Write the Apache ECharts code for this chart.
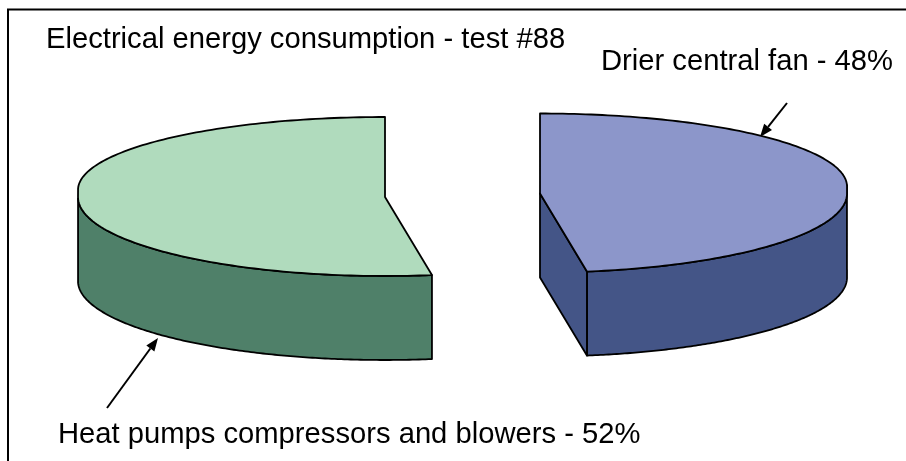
<!DOCTYPE html>
<html>
<head>
<meta charset="utf-8">
<style>
  html, body { margin: 0; padding: 0; background: #fff; }
  #chart { width: 906px; height: 461px; }
</style>
<script src="https://cdn.jsdelivr.net/npm/echarts@6/dist/echarts.min.js"></script>
</head>
<body>
<div id="chart"></div>
<script>
// chart data
const titleText = 'Electrical energy consumption - test #88';
const sliceNames = ['Drier central fan', 'Heat pumps compressors and blowers'];
const sliceShares = [48, 52];

// look of each slice, same order as the data
const topColors = ['#8C96CA', '#B0DBBD'];
const sideColors = ['#445587', '#4F8069'];
const sliceCenters = [[540, 193.5], [385, 197]];

const radiusX = 307;
const radiusYBack = 73;
const radiusYFront = 79;
const backLift = 7; // back half of the ellipse sits a bit higher, gives the flat bit at the sides
const depth = 84;
const bend = 1.6 * Math.PI / 180; // the drawing is not a true ellipse, cut lands a little further round

const font = 'Liberation Sans, Arial, sans-serif';
const fontSize = 29.2;
const chart = echarts.init(document.getElementById('chart'));

const total = sliceShares.reduce((a, b) => a + b, 0);

// angle is clockwise from 12 o'clock
const rimPoint = (center, angle) => {
  const t = angle - bend * Math.sin(angle / 2);
  const cos = Math.cos(t);
  const x = center[0] + radiusX * Math.sin(t);
  const y = cos > 0
    ? center[1] - backLift - radiusYBack * cos
    : center[1] - radiusYFront * cos;
  return [x, y];
};

const rimPoints = (center, from, to) => {
  const steps = 160;
  const pts = [];
  for (let i = 0; i <= steps; i++) {
    pts.push(rimPoint(center, from + (to - from) * i / steps));
  }
  return pts;
};

const down = (pts) => pts.map((p) => [p[0], p[1] + depth]);

const face = (points, fill, z2) => ({
  type: 'polygon',
  z2: z2,
  shape: { points: points },
  style: { fill: fill, stroke: '#000', lineWidth: 1.8, lineJoin: 'round' }
});

const renderSlice = (params, api) => {
  const i = params.dataIndex;
  const before = sliceShares.slice(0, i).reduce((a, b) => a + b, 0);
  const start = before / total * Math.PI * 2;
  const end = start + api.value(0) / total * Math.PI * 2;
  const center = sliceCenters[i];
  const children = [];

  // the wall only shows on the front half of the rim
  const frontFrom = Math.max(start, Math.PI / 2);
  const frontTo = Math.min(end, Math.PI * 1.5);
  if (frontTo > frontFrom) {
    const rim = rimPoints(center, frontFrom, frontTo);
    children.push(face(rim.concat(down(rim).reverse()), sideColors[i], 1));
  }
  // cut face, only visible when the slice ends on the right hand side
  if (end < Math.PI) {
    const cut = [center, rimPoint(center, end)];
    children.push(face(cut.concat(down(cut).reverse()), sideColors[i], 1));
  }
  const top = [center].concat(rimPoints(center, start, end));
  children.push(face(top, topColors[i], 2));
  return { type: 'group', children: children };
};

const arrow = (from, tip) => {
  const a = Math.atan2(tip[1] - from[1], tip[0] - from[0]);
  const len = 13, half = 5;
  const bx = tip[0] - len * Math.cos(a), by = tip[1] - len * Math.sin(a);
  return [
    { type: 'line', shape: { x1: from[0], y1: from[1], x2: bx, y2: by }, style: { stroke: '#000', lineWidth: 2 } },
    { type: 'polygon', shape: { points: [tip,
        [bx + half * Math.sin(a), by - half * Math.cos(a)],
        [bx - half * Math.sin(a), by + half * Math.cos(a)]] }, style: { fill: '#000' } }
  ];
};

const label = (i, x, y) => ({
  type: 'text',
  x: x,
  y: y,
  style: {
    text: sliceNames[i] + ' - ' + sliceShares[i] + '%',
    fontFamily: font,
    fontSize: fontSize,
    fill: '#000'
  }
});

chart.setOption({
  animation: false,
  backgroundColor: '#fff',
  title: {
    text: titleText,
    left: 46,
    top: 25,
    padding: 0,
    textStyle: { fontFamily: font, fontSize: fontSize, fontWeight: 'normal', color: '#000' }
  },
  graphic: [
    { type: 'polyline', shape: { points: [[8, 461], [8, 9.5], [906, 9.5]] }, style: { stroke: '#000', lineWidth: 2, fill: null } },
    label(0, 601, 47),
    label(1, 58, 420)
  ].concat(arrow([787, 103], [760, 137]), arrow([107, 408], [158, 338])),
  series: [{
    type: 'custom',
    coordinateSystem: 'none',
    renderItem: renderSlice,
    data: sliceShares.map((v) => [v]),
    silent: true
  }]
});
</script>
</body>
</html>
